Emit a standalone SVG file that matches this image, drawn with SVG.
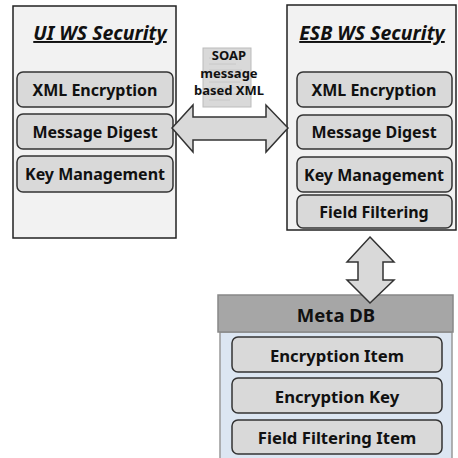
<svg xmlns="http://www.w3.org/2000/svg" width="458" height="458" viewBox="0 0 458 458">
<style>
.panel{fill:#f2f2f2;stroke:#222;stroke-width:1.5}
.item{fill:#d9d9d9;stroke:#333;stroke-width:1.5}
.lbl{font-family:"Noto Sans",sans-serif;font-weight:bold;font-size:16px;fill:#111;text-anchor:middle;dominant-baseline:central}
.db{font-size:16.7px}
.ttl{font-family:"Noto Sans",sans-serif;font-weight:bold;font-style:italic;font-size:19.5px;fill:#111;text-anchor:middle;text-decoration:underline}
.arrow{fill:#d9d9d9;stroke:#333;stroke-width:1.5;stroke-linejoin:miter}
.soap{font-family:"Noto Sans",sans-serif;font-weight:bold;font-size:13px;fill:#111;text-anchor:middle;dominant-baseline:central}
</style>
<rect width="458" height="458" fill="#ffffff"/>
<g id="ui-ws-security">
<rect class="panel" x="13" y="6" width="163" height="232"/>
<text class="ttl" x="100" y="40">UI WS Security</text>
<g id="ui-xml-encryption"><rect class="item" x="17" y="72" width="156" height="35" rx="6"/><text class="lbl" x="95" y="90">XML Encryption</text></g>
<g id="ui-message-digest"><rect class="item" x="17" y="114" width="156" height="35" rx="6"/><text class="lbl" x="95" y="132">Message Digest</text></g>
<g id="ui-key-management"><rect class="item" x="17" y="156" width="156" height="36" rx="6"/><text class="lbl" x="95" y="174">Key Management</text></g>
</g>
<g id="esb-ws-security">
<rect class="panel" x="287" y="5" width="169" height="225"/>
<text class="ttl" x="372" y="40">ESB WS Security</text>
<g id="esb-xml-encryption"><rect class="item" x="297" y="72" width="155" height="35" rx="6"/><text class="lbl" x="374" y="90">XML Encryption</text></g>
<g id="esb-message-digest"><rect class="item" x="297" y="115" width="155" height="34" rx="6"/><text class="lbl" x="374" y="132">Message Digest</text></g>
<g id="esb-key-management"><rect class="item" x="297" y="157" width="155" height="35" rx="6"/><text class="lbl" x="374" y="175">Key Management</text></g>
<g id="esb-field-filtering"><rect class="item" x="297" y="195" width="155" height="33" rx="6"/><text class="lbl" x="374" y="212">Field Filtering</text></g>
</g>
<g id="meta-db">
<rect x="220" y="332" width="232" height="130" fill="#dce6f2" stroke="#999" stroke-width="1.5"/>
<rect x="218" y="295" width="235" height="37" fill="#a6a6a6" stroke="#888" stroke-width="1.5"/>
<text class="lbl" x="336" y="314" style="font-size:18.5px">Meta DB</text>
<g id="encryption-item"><rect class="item" x="232" y="337" width="210" height="35" rx="6"/><text class="lbl db" x="337" y="355">Encryption Item</text></g>
<g id="encryption-key"><rect class="item" x="232" y="378" width="210" height="35" rx="6"/><text class="lbl db" x="337" y="396">Encryption Key</text></g>
<g id="field-filtering-item"><rect class="item" x="232" y="420" width="210" height="34" rx="6"/><text class="lbl db" x="337" y="437">Field Filtering Item</text></g>
</g>
<g id="soap-message">
<rect x="203" y="48" width="48" height="59" fill="#d9d9d9" stroke="#bbb" stroke-width="1"/>
<g stroke="#c4c4c4" stroke-width="0.8">
<line x1="209" y1="58" x2="240" y2="58"/><line x1="209" y1="64" x2="236" y2="64"/><line x1="209" y1="70" x2="242" y2="70"/>
<line x1="209" y1="76" x2="232" y2="76"/><line x1="209" y1="82" x2="240" y2="82"/><line x1="209" y1="88" x2="236" y2="88"/>
<line x1="209" y1="94" x2="238" y2="94"/><line x1="209" y1="100" x2="230" y2="100"/>
</g>
<text class="soap" x="229" y="55">SOAP</text>
<text class="soap" x="229" y="73">message</text>
<text class="soap" x="229" y="90">based XML</text>
</g>
<g id="connectors">
<polygon class="arrow" points="172,128 193,105 193,117 266,117 266,105 288,128 266,152 266,140 193,140 193,152"/>
<polygon class="arrow" points="370,237 394,262 383,262 383,280 394,280 370,303 347,280 358,280 358,262 347,262"/>
</g>
</svg>
